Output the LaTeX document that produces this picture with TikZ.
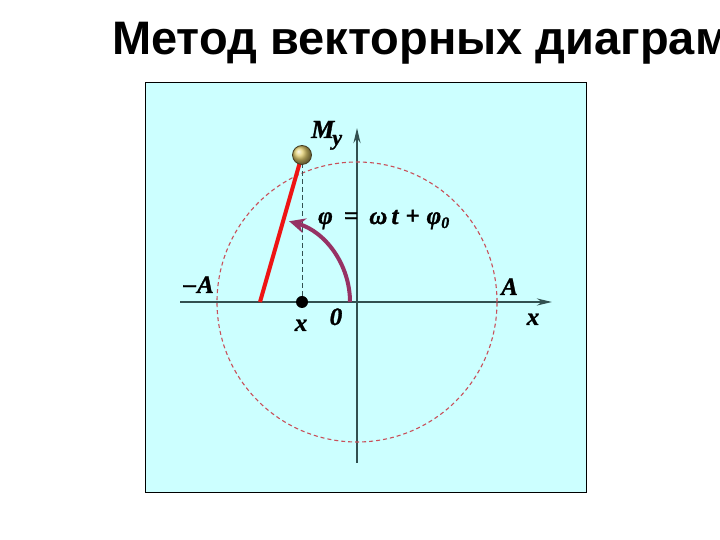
\documentclass[tikz,border=0pt]{standalone}
\usepackage{fontspec}
\setmainfont{Liberation Serif}
\newfontfamily\titlefont{Liberation Sans}
\newfontfamily\lblfont[ItalicFeatures={FakeBold=1.2}, BoldItalicFeatures={FakeBold=1.2}]{Liberation Serif}
\usetikzlibrary{arrows.meta}
\definecolor{panelbg}{RGB}{204,255,255}
\definecolor{axiscol}{RGB}{50,80,80}
\definecolor{circcol}{RGB}{200,80,90}
\definecolor{arccol}{RGB}{150,50,100}
\definecolor{redline}{RGB}{238,20,20}
\definecolor{ballcol}{RGB}{225,205,110}
\tikzset{
  axisline/.style={draw=axiscol, line width=2.2pt, -{Stealth[length=15pt,width=7pt]}},
  lbl/.style={font=\lblfont\fontsize{25}{29}\selectfont\bfseries\itshape, inner sep=0pt},
}
\begin{document}
\begin{tikzpicture}[x=1pt,y=1pt]
\useasboundingbox (0,0) rectangle (720,540);
\clip (0,0) rectangle (720,540);
\fill[white] (0,0) rectangle (720,540);
% title
\node[anchor=base west, inner sep=0pt, font=\titlefont\fontsize{47}{56}\selectfont\bfseries] (title) at (112,485) {Метод векторных диаграм};
% panel
\node[draw=black, line width=0.8pt, fill=panelbg, minimum width=441pt, minimum height=410pt, inner sep=0pt, anchor=south west] (panel) at (145,47) {};
% axes
\coordinate (xl) at (180,238);
\coordinate (xr) at (552,238);
\coordinate (yb) at (357,77);
\coordinate (yt) at (357,412);
\coordinate (O) at (357,238);
\draw[axisline] (xl) -- (xr);
\draw[axisline] (yb) -- (yt);
% circle
\draw[circcol, line width=1.1pt, dash pattern=on 4pt off 3pt] (O) circle (140);
% points
\coordinate (B) at (302,385);
\coordinate (D) at (302,238);
\coordinate (R) at (260,238);
\draw[axiscol, line width=1pt, dash pattern=on 5pt off 3pt] (B) -- (D);
\draw[redline, line width=4pt] (R) -- (B);
% angle arc
\coordinate (arcstart) at (350,238);
\draw[arccol, line width=4pt, -{Stealth[length=16pt,width=15pt]}] (arcstart) arc[start angle=0, end angle=74, radius=84];
% nodes
\node[circle, minimum size=19pt, inner sep=0pt, ball color=ballcol, draw=black!70!ballcol, line width=0.8pt] (ball) at (B) {};
\node[circle, fill=black, minimum size=12pt, inner sep=0pt] (dot) at (D) {};
% labels
\node[lbl, anchor=base west, font=\lblfont\fontsize{26}{30}\selectfont\bfseries\itshape] (My) at (311,402) {M\kern-2pt\raisebox{-7pt}{\fontsize{22}{26}\selectfont y}};
\node[lbl, anchor=base west] (phi) at (318,316) {φ\;\,=\;\,ω\,t\;+\;φ\raisebox{-4pt}{\fontsize{16}{18}\selectfont 0}};
\node[lbl, anchor=base east] (mA) at (214,247) {\raisebox{1pt}{–\kern1pt}A};
\node[lbl, anchor=base west] (pA) at (501,245) {A};
\node[lbl, anchor=base] (xd) at (301,209) {x};
\node[lbl, anchor=base] (zero) at (336,215) {0};
\node[lbl, anchor=base] (xax) at (533,215) {x};
\end{tikzpicture}
\end{document}
